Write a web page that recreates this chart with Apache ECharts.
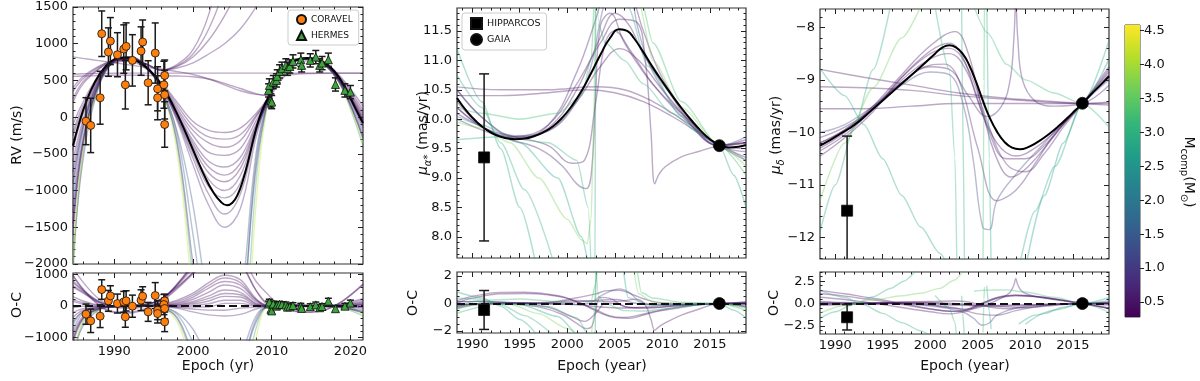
<!DOCTYPE html>
<html>
<head>
<meta charset="utf-8">
<script src="https://cdn.jsdelivr.net/npm/echarts@6.0.0/dist/echarts.min.js"></script>
<style>
html,body{margin:0;padding:0;background:#fff;}
#chart{width:1200px;height:381px;}
</style>
</head>
<body>
<div id="chart"></div>
<script>
// ======================= DATA =======================
// ---- Panel 1: radial velocities ----
const coravelYear = [1986.4,1987.0,1988.2,1988.4,1989.25,1989.5,1990.4,1991.2,1991.5,1991.4,1992.3,1993.4,1993.6,1994.3,1995.2,1995.5,1995.5,1996.4,1996.3,1996.4,1996.4];
const coravelRV   = [-55,-113,264,1136,886,1036,850,927,964,441,773,900,1023,468,873,386,264,568,441,305,-100];
const coravelErr  = [320,370,360,310,330,320,300,330,320,330,350,330,300,300,410,300,300,210,320,330,310];
const coravelOC   = [-263,-474,-326,516,158,316,74,126,158,-347,-10,179,305,-190,326,-137,-242,158,42,-84,-505];

const hermesYear = [2009.6,2009.7,2009.9,2010.0,2010.2,2010.6,2010.7,2011.0,2011.3,2011.8,2012.0,2012.3,2012.7,2013.7,2013.8,2014.9,2015.6,2016.1,2016.4,2017.2,2018.1,2019.3,2020.0];
const hermesRV   = [364,432,227,205,477,500,555,623,659,705,659,690,759,782,705,773,818,705,736,782,445,364,341];
const hermesErr  = [90,90,90,90,90,90,90,90,90,90,90,90,90,90,90,90,90,90,90,90,90,90,90];
const hermesOC   = [60,120,-110,-160,60,-10,30,50,40,30,-40,-30,10,-10,-80,-25,30,-60,-20,150,-90,-10,90];

const rvFitYear = [1984.75,1985.5,1986.5,1987.5,1988.5,1989.5,1990.5,1991.5,1992.5,1993.5,1994.5,1995.5,1996.5,1997.5,1998.5,1999.5,2000.5,2001.5,2002.5,2003.5,2004.3,2005.0,2005.7,2006.4,2007.1,2007.8,2008.6,2009.6,2010.5,2011.5,2012.5,2013.5,2014.5,2015.5,2016.5,2017.5,2018.5,2019.5,2020.5,2021.6];
const rvFit     = [-390,-90,230,470,640,750,805,812,785,725,635,510,350,150,-75,-320,-570,-810,-1010,-1150,-1200,-1165,-1050,-840,-560,-250,40,280,480,640,740,790,805,795,755,675,550,370,150,-80];

const rvModelEpochs = [1984.75,1986,1988,1990,1992,1994,1996,1998,2000,2002,2004,2006,2008,2009.6,2011,2013,2015,2017,2019,2021.6];
const rvModelMass = [0.45,0.4,0.5,0.45,0.5,0.4,0.55,0.45,0.4,0.55,0.35,0.6,0.5,0.7,1.3,2.9,4.2,0.5,1.6,0.5,0.45,0.4,0.6];
const rvModels = [
 [585,590,595,598,600,600,600,600,600,600,600,600,600,600,600,600,600,600,600,600],
 [555,560,565,570,570,568,565,560,550,520,460,390,320,290,560,585,595,598,600,600],
 [820,800,770,740,710,680,655,620,580,520,440,360,310,300,480,700,775,720,520,150],
 [200,450,650,770,790,730,640,720,920,1400,2300,'-','-','-','-','-','-','-','-','-'],
 [250,480,660,770,790,730,640,700,860,1200,1750,2500,'-','-','-','-','-','-','-','-'],
 [350,520,680,770,780,720,640,690,820,1050,1380,1800,2400,'-','-','-','-','-','-','-'],
 [400,550,690,770,780,720,640,670,740,860,1000,1200,1500,1800,'-','-','-','-','-','-'],
 [-100,200,560,740,760,660,470,200,-60,-180,-210,-150,50,280,590,760,790,720,500,100],
 [-250,100,520,760,790,680,450,120,-180,-350,-410,-320,0,260,585,770,800,710,470,30],
 [-600,-50,500,770,800,690,440,60,-320,-600,-680,-550,-100,250,580,775,795,705,450,-20],
 [-900,-150,470,760,810,690,430,30,-400,-760,-880,-700,-150,250,575,770,790,700,440,-50],
 [-1300,-300,450,770,820,700,430,0,-450,-850,-1000,-800,-170,250,580,780,800,700,430,-100],
 [-1600,-400,430,770,820,690,410,-30,-560,-1050,-1320,-1050,-220,250,575,780,790,690,420,-150],
 [-2000,-600,400,760,810,680,400,-60,-650,-1200,-1500,-1250,-280,250,570,785,795,690,400,-250],
 [-1200,-200,450,760,810,680,380,-200,-1200,-2600,-3500,-2600,-500,250,580,790,800,690,400,-300],
 [-2200,-500,420,770,815,690,380,-400,-2200,-4000,-5000,-4000,-900,250,580,790,800,690,380,-400],
 [-2000,-450,430,770,815,690,370,-500,-2500,-4500,-5500,-4500,-1200,250,580,790,800,690,380,-350],
 [-1500,-350,440,770,810,690,360,-350,-2000,-3500,-4000,-3000,-700,250,575,790,800,690,390,-280],
 [-1000,-150,470,770,810,690,390,-250,-1600,-3000,-3800,-3000,-600,250,580,790,800,690,400,-200],
 [-200,150,540,750,775,670,460,160,-120,-270,-300,-240,20,265,585,765,795,715,480,60],
 [-450,30,510,765,795,685,445,90,-250,-480,-520,-430,-50,255,580,772,797,707,460,0],
 [-750,-100,485,765,805,690,435,45,-360,-680,-790,-630,-125,250,578,772,792,702,445,-35],
 [-1450,-350,440,770,820,695,420,-15,-500,-950,-1100,-900,-190,250,578,780,795,695,425,-120]
];
const rvModelOC = [
 [975,550,55,-182,-195,-75,175,580,1060,1515,1780,1580,780,340,30,-162,-195,-110,150,680],
 [945,520,25,-210,-225,-107,140,540,1010,1435,1640,1370,500,30,-10,-177,-200,-112,150,680],
 [1210,760,230,-40,-85,5,230,600,1040,1435,1620,1340,490,40,-90,-62,-20,10,70,230],
 [590,410,110,-10,-5,55,215,700,1380,2315,3480,'-','-','-','-','-','-','-','-','-'],
 [640,440,120,-10,-5,55,215,680,1320,2115,2930,3480,'-','-','-','-','-','-','-','-'],
 [740,480,140,-10,-15,45,215,670,1280,1965,2560,2780,2580,'-','-','-','-','-','-','-'],
 [790,510,150,-10,-15,45,215,650,1200,1775,2180,2180,1680,1540,'-','-','-','-','-','-'],
 [290,160,20,-40,-35,-15,45,180,400,735,970,830,230,20,20,-2,-5,10,50,180],
 [140,60,-20,-20,-5,5,25,100,280,565,770,660,180,0,15,8,5,0,20,110],
 [-210,-90,-40,-10,5,15,15,40,140,315,500,430,80,-10,10,13,0,-5,0,60],
 [-510,-190,-70,-20,15,15,5,10,60,155,300,280,30,-10,5,8,-5,-10,-10,30],
 [-910,-340,-90,-10,25,25,5,-20,10,65,180,180,10,-10,10,18,5,-10,-20,-20],
 [-1210,-440,-110,-10,25,15,-15,-50,-100,-135,-140,-70,-40,-10,5,18,-5,-20,-30,-70],
 [-1610,-640,-140,-20,15,5,-25,-80,-190,-285,-320,-270,-100,-10,0,23,0,-20,-50,-170],
 [-810,-240,-90,-20,15,5,-45,-220,-740,-1685,-2320,-1620,-320,-10,10,28,5,-20,-50,-220],
 [-1810,-540,-120,-10,20,15,-45,-420,-1740,-3085,-3820,-3020,-720,-10,10,28,5,-20,-70,-320],
 [-1610,-490,-110,-10,20,15,-55,-520,-2040,-3585,-4320,-3520,-1020,-10,10,28,5,-20,-70,-270],
 [-1110,-390,-100,-10,15,15,-65,-370,-1540,-2585,-2820,-2020,-520,-10,5,28,5,-20,-60,-200],
 [-610,-190,-70,-10,15,15,-35,-270,-1140,-2085,-2620,-2020,-420,-10,10,28,5,-20,-50,-120],
 [190,110,0,-30,-20,-5,35,140,340,645,880,740,200,5,15,3,0,5,30,140],
 [-60,-10,-30,-15,0,10,20,70,210,435,660,550,130,-5,10,10,2,-3,10,80],
 [-360,-140,-55,-15,10,15,10,25,100,235,390,350,55,-10,8,10,-3,-8,-5,45],
 [-1060,-390,-100,-10,25,20,-5,-35,-40,-35,80,80,-10,-10,8,18,0,-15,-25,-40]
];

// ---- Panel 2: proper motion in RA ----
const astroYear = [1991.25, 2016.0];          // HIPPARCOS, GAIA
const pmraObs   = [9.35, 9.55];
const pmraErr   = [1.42, 0.02];
const pmraOC    = [-0.47, 0.0];

const pmraFitYear = [1988.4,1989.5,1990.5,1991.5,1992.5,1993.5,1994.5,1995.5,1996.5,1997.5,1998.5,1999.5,2000.5,2001.5,2002.5,2003.5,2004.5,2005.5,2006.3,2007,2008,2009,2010,2011,2012,2013,2014,2015,2016,2017,2018,2018.8];
const pmraFit     = [10.36,10.12,9.95,9.82,9.73,9.68,9.66,9.67,9.71,9.78,9.88,10.03,10.23,10.48,10.78,11.10,11.38,11.53,11.50,11.38,11.14,10.88,10.64,10.41,10.19,9.99,9.81,9.66,9.56,9.52,9.53,9.56];

const pmraModelMass = [0.35,0.45,0.55,0.4,0.5,0.6,0.45,0.5,1.1,2.8,3.0,3.7,3.0,2.7,3.2];
const pmraModels = [
 [[1988.4,10.3],[1991.25,9.85],[1994.5,9.7],[1998,9.8],[2001,10.3],[2003.5,10.9],[2005.5,11.2],[2007.5,11.0],[2010,10.5],[2013,9.95],[2016,9.55],[2018.8,9.6]],
 [[1988.4,10.2],[1991.25,9.85],[1994.5,9.68],[1998,9.85],[2001,10.5],[2003.5,11.4],[2005,11.8],[2006.5,11.6],[2008,11.1],[2010.5,10.5],[2013,9.95],[2016,9.55],[2018.8,9.5]],
 [[1988.4,10.1],[1991.25,9.85],[1994.5,9.66],[1998,9.9],[2001,10.8],[2003,11.7],[2004,12.2],[2005.5,12.5],[2007,12.0],[2008,11.5],[2010,10.7],[2013,10.0],[2016,9.55],[2018.8,9.45]],
 [[1988.4,10.4],[1993,10.4],[1998,10.45],[2002,10.5],[2005,10.45],[2008,10.3],[2011,10.05],[2014,9.75],[2016,9.55],[2018.8,9.35]],
 [[1988.4,10.55],[1993,10.5],[1998,10.5],[2003,10.55],[2006,10.5],[2009,10.3],[2012,10.0],[2016,9.55],[2018.8,9.3]],
 [[1988.4,10.0],[1991.25,9.8],[1994,9.65],[1997,9.5],[1999.5,9.2],[2001,8.9],[2002,8.82],[2002.6,9.2],[2003,10.5],[2003.5,11.6],[2004.5,11.8],[2006,11.3],[2008,10.8],[2010,10.4],[2013,9.9],[2016,9.55],[2018.8,9.6]],
 [[1988.4,10.2],[1991.25,9.85],[1994.5,9.7],[1998,9.55],[2000.5,9.25],[2001.8,9.3],[2003,10.3],[2004,11.3],[2005,11.5],[2006.5,11.2],[2009,10.6],[2012,10.1],[2016,9.55],[2018.8,9.65]],
 [[1988.4,10.5],[1991.25,10.0],[1994.5,9.7],[1998,9.9],[2001,10.6],[2003.5,11.3],[2005.5,11.7],[2007.3,11.65],[2008.2,11.0],[2008.8,9.8],[2009.2,8.9],[2009.6,9.05],[2010.3,9.19],[2012,9.36],[2013.8,9.45],[2016,9.55],[2018.8,9.6]],
 [[1988.4,10.5],[1991.25,10.0],[1994.5,9.72],[1998,9.8],[2001,10.3],[2002.5,10.9],[2003.5,11.7],[2004.5,12.3],[2005.5,12.6],[2006.5,12.3],[2007.5,11.5],[2009,10.8],[2012,10.1],[2016,9.55],[2018.8,9.7]],
 [[1988.4,11.2],[1991,10.3],[1993,9.5],[1995,8.5],[1997,7.3]],
 [[1988.4,10.75],[1991,10.2],[1993,9.6],[1995.5,8.8],[1998.5,7.6]],
 [[1988.4,9.95],[1991,9.85],[1994,9.6],[1997,9.0],[2000,8.3],[2001.5,7.95],[2002.1,7.88],[2002.5,8.3],[2002.8,10],[2003,12.5],[2003.3,15],[2006,15],[2007.5,12.0],[2009,11.0],[2012,10.2],[2016,9.55],[2018.8,9.2]],
 [[1988.4,9.65],[1993,9.7],[1998,9.6],[2001,9.3],[2002.2,8.5],[2002.6,7.0],[2002.7,'-'],[2002.9,15],[2003.3,11.6],[2004,11.3],[2006,11.0],[2008,10.6],[2011,10.1],[2014,9.75],[2016,9.55],[2018.8,9.3]],
 [[1988.4,10.05],[1991,9.9],[1995,9.6],[1999,9.0],[2001.5,8.0],[2002.5,7.4],[2002.9,7.0],[2003.05,15],[2005.6,15],[2006.4,11.9],[2008.5,10.9],[2012,10.05],[2014,9.75],[2016,9.55],[2017.5,9.05],[2018.8,8.5]],
 [[1988.4,10.2],[1991,10.1],[1995,10.0],[1999,10.1],[2001.5,10.4],[2002.5,11.0],[2003,12.5],[2003.2,15],[2007,15],[2007.8,12.0],[2009,11.3],[2012,10.3],[2016,9.55],[2018.8,9.05]]
];
const pmraModelOC = [
 [[1988.4,-0.06],[1991.25,0.01],[1994.5,0.04],[1998,-0.02],[2001,-0.08],[2003.5,-0.25],[2005.5,-0.33],[2007.5,-0.29],[2010,-0.17],[2013,-0.06],[2016,0],[2018.8,0.04]],
 [[1988.4,-0.16],[1991.25,0.01],[1994.5,0.02],[1998,0.03],[2001,0.12],[2003.5,0.25],[2005,0.3],[2006.5,0.12],[2008,-0.05],[2010.5,-0.05],[2013,-0.06],[2016,0],[2018.8,-0.06]],
 [[1988.4,-0.26],[1991.25,0.01],[1994.5,0],[1998,0.08],[2001,0.42],[2003,0.7],[2004,0.92],[2005.5,0.97],[2007,0.62],[2008,0.35],[2010,0.04],[2013,0],[2016,0],[2018.8,-0.11]],
 [[1988.4,0.04],[1990,0.39],[1993,0.71],[1995.5,0.73],[1998,0.63],[2000,0.38],[2002,-0.18],[2003.5,-0.7],[2005,-1.03],[2006.5,-1.08],[2008,-0.85],[2009.5,-0.57],[2011,-0.4],[2014,-0.07],[2016,0],[2018.8,-0.21]],
 [[1988.4,0.19],[1990,0.52],[1993,0.81],[1995.5,0.82],[1998,0.68],[2000,0.4],[2003,-0.45],[2004.5,-0.9],[2006,-1.02],[2007.5,-0.85],[2009,-0.6],[2012,-0.21],[2016,0],[2018.8,-0.26]],
 [[1988.4,-0.36],[1991.25,-0.04],[1994,-0.02],[1997,-0.24],[1999.5,-0.8],[2001,-1.45],[2002,-1.83],[2002.6,-1.65],[2003,-0.5],[2003.5,0.45],[2004.5,0.38],[2006,-0.22],[2008,-0.35],[2010,-0.26],[2013,-0.1],[2016,0],[2018.8,0.04]],
 [[1988.4,-0.16],[1991.25,0.01],[1994.5,0.04],[1998,-0.27],[2000.5,-0.97],[2001.8,-1.3],[2003,-0.7],[2004,0],[2005,0.02],[2006.5,-0.28],[2009,-0.3],[2012,-0.11],[2016,0],[2018.8,0.09]],
 [[1988.4,0.14],[1991.25,0.16],[1994.5,0.04],[1998,0.08],[2001,0.22],[2003.5,0.15],[2005.5,0.17],[2007.3,0.32],[2008.2,-0.1],[2008.8,-1.15],[2009.2,-1.95],[2009.6,-1.72],[2010.3,-1.42],[2012,-0.85],[2013.8,-0.42],[2016,0],[2018.8,0.04]],
 [[1988.4,0.14],[1991.25,0.16],[1994.5,0.06],[1998,-0.02],[2001,-0.08],[2002.5,0.07],[2003.5,0.55],[2004.5,0.89],[2005.5,1.07],[2006.5,0.82],[2007.5,0.21],[2009,-0.1],[2012,-0.11],[2016,0],[2018.8,0.14]],
 [[1988.4,0.84],[1991,0.43],[1993,-0.19],[1995,-1.17],[1997,-2.44]],
 [[1988.4,0.39],[1991,0.33],[1993,-0.09],[1995.5,-0.88],[1998.5,-2.3]],
 [[1988.4,-0.41],[1991,-0.02],[1994,-0.07],[1997,-0.74],[2000,-1.82],[2001.5,-2.55],[2002.2,'-'],[2002.5,-2.52],[2002.8,-0.93],[2003,1.5],[2003.2,3],[2005,'-'],[2006.9,3],[2007.5,0.71],[2009,0.1],[2012,-0.01],[2016,0],[2018.8,-0.36]],
 [[1988.4,-0.71],[1993,0.01],[1998,-0.22],[2001,-1.03],[2002.2,-2.22],[2002.6,-3.85],[2002.7,'-'],[2002.9,4],[2003.3,0.5],[2004,0.0],[2006,-0.52],[2008,-0.55],[2011,-0.35],[2014,-0.07],[2016,0],[2018.8,-0.26]],
 [[1988.4,-0.31],[1991,0.03],[1995,-0.07],[1999,-0.95],[2001.5,-2.5],[2002.5,-3.42],[2002.9,-3.97],[2003.05,3.98],[2005.6,3.47],[2006.4,0.43],[2008.5,-0.12],[2012,-0.16],[2014,-0.07],[2016,0],[2017.5,-0.48],[2018.8,-1.06]],
 [[1988.4,-0.16],[1991,0.23],[1995,0.33],[1999,0.15],[2001.5,-0.1],[2002.5,0.18],[2003,1.5],[2003.2,3.94],[2007,3.62],[2007.8,0.8],[2009,0.4],[2012,0.09],[2016,0],[2018.8,-0.51]]
];

// ---- Panel 3: proper motion in Dec ----
const pmdecObs = [-11.49, -9.445];
const pmdecErr = [1.42, 0.02];
const pmdecOC  = [-1.53, 0.0];

const pmdecFitYear = [1988.4,1989.5,1990.5,1991.5,1992.5,1993.5,1994.5,1995.5,1996.5,1997.5,1998.5,1999.5,2000.5,2001.3,2002,2002.7,2003.4,2004.1,2004.8,2005.5,2006.2,2007,2007.8,2008.6,2009.4,2010.3,2011.4,2012.5,2013.5,2014.5,2015.3,2016,2017,2018,2018.8];
const pmdecFit     = [-10.25,-10.14,-10.03,-9.92,-9.79,-9.63,-9.47,-9.31,-9.15,-8.99,-8.83,-8.67,-8.50,-8.38,-8.34,-8.38,-8.50,-8.72,-9.03,-9.38,-9.70,-9.98,-10.18,-10.29,-10.32,-10.28,-10.17,-10.03,-9.88,-9.71,-9.57,-9.45,-9.26,-9.08,-8.93];

const pmdecModelMass = [0.4,0.5,0.6,0.35,1.1,0.45,0.5,0.4,0.55,0.6,2.9,3.6,2.8,3.1,3.0,3.3,2.9,2.9,3.2,2.6];
const pmdecModels = [
 [[1988.4,-10.3],[1991,-10.0],[1994,-9.5],[1997,-8.9],[2000,-8.35],[2002.6,-8.08],[2004,-8.5],[2005.5,-9.6],[2007,-10.5],[2008.5,-10.85],[2010,-10.7],[2012,-10.3],[2014,-9.85],[2016,-9.45],[2018.8,-8.85]],
 [[1988.4,-10.2],[1991,-9.95],[1994,-9.55],[1997,-9.0],[2000,-8.6],[2002,-8.5],[2004,-8.9],[2006,-9.9],[2008,-10.5],[2010,-10.5],[2012,-10.25],[2014,-9.85],[2016,-9.45],[2018.8,-8.9]],
 [[1988.4,-10.1],[1991,-9.9],[1994,-9.55],[1997,-9.05],[2000,-8.72],[2001.5,-8.7],[2003,-9.0],[2005,-10.3],[2007,-11.3],[2009,-11.1],[2011,-10.6],[2013,-10.05],[2016,-9.45],[2018.8,-8.95]],
 [[1988.4,-10.45],[1991,-10.1],[1994,-9.6],[1997,-8.95],[2000,-8.45],[2002,-8.3],[2003.5,-8.6],[2005,-9.4],[2007,-10.2],[2009,-10.45],[2011,-10.3],[2013,-10.0],[2016,-9.45],[2018.8,-8.8]],
 [[1988.4,-10.0],[1991,-9.85],[1994,-9.5],[1997,-9.1],[2000,-8.85],[2002,-8.9],[2003.5,-9.5],[2004.5,-10.5],[2005.5,-11.8],[2006.2,-11.85],[2007,-11.3],[2009,-10.8],[2012,-10.2],[2016,-9.45],[2018.8,-9.0]],
 [[1988.4,-8.8],[1993,-8.95],[1998,-9.1],[2003,-9.25],[2008,-9.35],[2012,-9.4],[2016,-9.45],[2018.8,-9.48]],
 [[1988.4,-9.13],[1993,-9.15],[1998,-9.2],[2003,-9.3],[2008,-9.37],[2012,-9.42],[2016,-9.45],[2018.8,-9.42]],
 [[1988.4,-9.55],[1993,-9.55],[1998,-9.5],[2003,-9.45],[2008,-9.45],[2012,-9.45],[2016,-9.45],[2018.8,-9.45]],
 [[1988.4,-10.2],[1991,-9.95],[1994,-9.5],[1997,-9.05],[2000,-8.75],[2002,-8.8],[2004,-9.3],[2006,-9.7],[2007.5,-9.5],[2008.4,-9.0],[2008.8,-8.2],[2009,-7.5],[2009.2,-8.2],[2009.7,-9.0],[2011,-9.4],[2013,-9.5],[2016,-9.45],[2018.8,-9.1]],
 [[1988.4,-10.35],[1991,-10.05],[1994,-9.55],[1997,-8.95],[2000,-8.5],[2002,-8.4],[2004,-8.8],[2006,-9.8],[2008,-10.6],[2010,-10.75],[2012,-10.4],[2014,-9.9],[2016,-9.45],[2018.8,-8.75]],
 [[1988.4,-11.9],[1990,-11.0],[1992,-9.9],[1994,-8.8],[1995.8,-7.6]],
 [[1988.4,-11.3],[1991,-10.2],[1994,-9.15],[1997,-8.2],[1999,-7.6]],
 [[1988.4,-8.78],[1991,-9.3],[1993,-9.85],[1995,-10.5],[1997,-11.2],[1999,-11.8],[2001,-12.3],[2002,-12.6]],
 [[2000.5,-7.6],[2002,-8.8],[2002.6,-10.5],[2002.8,-12.6]],
 [[2003.3,-7.6],[2003.4,-9.5],[2003.6,-12.6]],
 [[2005.55,-12.6],[2005.65,-9.0],[2005.7,-7.6]],
 [[2005.95,-7.6],[2006.2,-10.5],[2006.4,-12.6]],
 [[2009.3,-12.6],[2011,-11.5],[2013.1,-10.65],[2016,-9.45],[2018.8,-8.25]],
 [[2004.6,-7.6],[2006,-8.1],[2008,-8.7],[2010,-9.0],[2013,-9.25],[2016,-9.45],[2018.8,-9.9]],
 [[2010,-12.6],[2012,-11.2],[2014,-10.2],[2016,-9.45],[2018.8,-8.6]]
];
const pmdecModelOC = [
 [[1988.4,-0.05],[1991,-0.02],[1994,0.06],[1997,0.17],[2000,0.23],[2002.6,0.29],[2004,0.18],[2005.5,-0.22],[2007,-0.5],[2008.5,-0.57],[2010,-0.41],[2012,-0.2],[2014,-0.05],[2016,0],[2018.8,0.08]],
 [[1988.4,0.05],[1991,0.03],[1994,0.01],[1997,0.07],[2000,-0.02],[2002,-0.16],[2004,-0.22],[2006,-0.3],[2008,-0.27],[2010,-0.21],[2012,-0.15],[2014,-0.05],[2016,0],[2018.8,0.03]],
 [[1988.4,0.15],[1991,0.08],[1994,0.01],[1997,0.02],[2000,-0.14],[2001.5,-0.33],[2003,-0.58],[2005,-1.15],[2007,-1.3],[2009,-0.79],[2011,-0.4],[2013,-0.09],[2016,0],[2018.8,-0.02]],
 [[1988.4,-0.2],[1991,-0.12],[1994,-0.04],[1997,0.12],[2000,0.13],[2002,0.04],[2003.5,-0.07],[2005,-0.25],[2007,-0.2],[2009,-0.14],[2011,-0.1],[2013,-0.04],[2016,0],[2018.8,0.13]],
 [[1988.4,0.25],[1991,0.13],[1994,0.06],[1997,-0.03],[2000,-0.27],[2002,-0.56],[2003.5,-0.97],[2004.5,-1.6],[2005.5,-2.42],[2006.2,-2.17],[2007,-1.3],[2009,-0.49],[2012,-0.1],[2016,0],[2018.8,-0.07]],
 [[1988.4,1.45],[1991,1.1],[1993,0.75],[1995,0.4],[1998,-0.2],[2000,-0.6],[2002,-0.85],[2003,-0.83],[2004,-0.6],[2005,-0.15],[2006,0.28],[2007,0.67],[2008,0.88],[2009,0.95],[2010,0.9],[2012,0.7],[2014,0.37],[2016,0],[2018.8,-0.55]],
 [[1988.4,1.12],[1991,0.83],[1993,0.55],[1995,0.25],[1998,-0.28],[2000,-0.6],[2002,-0.85],[2003,-0.87],[2004,-0.63],[2005,-0.18],[2006,0.27],[2007,0.65],[2008,0.86],[2009,0.93],[2010,0.88],[2012,0.68],[2014,0.36],[2016,0],[2018.8,-0.49]],
 [[1988.4,0.7],[1991,0.45],[1993,0.17],[1995,-0.12],[1998,-0.6],[2000,-0.92],[2002,-1.15],[2003,-1.03],[2004,-0.77],[2005,-0.3],[2006,0.15],[2007,0.55],[2008,0.78],[2009,0.86],[2010,0.84],[2012,0.65],[2014,0.35],[2016,0],[2018.8,-0.52]],
 [[1988.4,0.05],[1991,0.03],[1994,0.06],[1997,0.02],[2000,-0.17],[2002,-0.46],[2004,-0.62],[2006,-0.1],[2007.5,0.63],[2008.4,1.27],[2008.8,2.1],[2009,2.81],[2009.2,2.11],[2009.7,1.3],[2011,0.8],[2013,0.46],[2016,0],[2018.8,-0.17]],
 [[1988.4,-0.1],[1991,-0.07],[1994,0.01],[1997,0.12],[2000,0.08],[2002,-0.06],[2004,-0.12],[2006,-0.2],[2008,-0.37],[2010,-0.46],[2012,-0.3],[2014,-0.1],[2016,0],[2018.8,0.18]],
 [[1988.4,-1.65],[1990,-0.92],[1992,-0.05],[1994,0.76],[1995.8,1.68],[1997.2,2.5],[1998.5,3.7]],
 [[1988.4,-1.05],[1991,-0.22],[1994,0.41],[1997,0.87],[1999,1.15],[2001,1.7],[2002.5,2.6],[2003.5,3.7]],
 [[1988.4,1.47],[1991,0.68],[1993,-0.15],[1995,-1.1],[1997,-2.13],[1999,-3.05],[2000,-3.6]],
 [[2000.5,0.9],[2002,-0.46],[2002.6,-2.13],[2002.8,-4.2]],
 [[2003.3,0.88],[2003.4,-0.99],[2003.6,-4.03]],
 [[2005.55,-3.2],[2005.65,0.45],[2005.7,1.85]],
 [[2005.95,2.0],[2006.2,-0.82],[2006.4,-2.84]],
 [[2009.3,-2.29],[2011,-1.3],[2013.1,-0.71],[2016,0],[2018.8,0.68]],
 [[2004.6,1.38],[2006,1.5],[2008,1.53],[2010,1.29],[2013,0.71],[2016,0],[2018.8,-0.97]],
 [[2010,-2.31],[2012,-1.1],[2014,-0.4],[2016,0],[2018.8,0.33]]
];

// ---- axis ranges and tick labels ----
const rvXRange = [1984.75, 2021.6];
const astXRange = [1988.4, 2018.8];
const rvYRange = [-2000, 1500];
const rvOCRange = [-1080, 1040];
const pmraYRange = [7.64, 11.89];
const pmraOCRange = [-2.15, 2.3];
const pmdecYRange = [-12.41, -7.65];
const pmdecOCRange = [-3.4, 3.53];
const cbRange = [0.28, 4.58];

const rvXTicks = [1990, 2000, 2010, 2020];
const astXTicks = [1990, 1995, 2000, 2005, 2010, 2015];
const rvYTicks = [-2000, -1500, -1000, -500, 0, 500, 1000, 1500];
const rvOCTicks = [-1000, 0, 1000];
const pmraYTicks = [8.0, 8.5, 9.0, 9.5, 10.0, 10.5, 11.0, 11.5];
const pmraOCTicks = [-2, 0, 2];
const pmdecYTicks = [-12, -11, -10, -9, -8];
const pmdecOCTicks = [-2.5, 0, 2.5];
const cbTicks = [0.5, 1.0, 1.5, 2.0, 2.5, 3.0, 3.5, 4.0, 4.5];

// ======================= BUILD =======================
const FONT = 'DejaVu Sans';
const VIR = [[68,1,84],[72,40,120],[62,73,137],[49,104,142],[38,130,142],[31,158,137],[53,183,121],[110,206,88],[181,222,43],[253,231,37]];
function viridis(m){
  let t = (m - cbRange[0]) / (cbRange[1] - cbRange[0]);
  t = Math.max(0, Math.min(1, t));
  const p = t * (VIR.length - 1);
  const i = Math.min(Math.floor(p), VIR.length - 2);
  const f = p - i;
  return VIR[i].map((a, k) => Math.round(a + (VIR[i + 1][k] - a) * f));
}
function modelColor(m){ const c = viridis(m); return 'rgba(' + c[0] + ',' + c[1] + ',' + c[2] + ',0.36)'; }
function minorTicks(r, step, major){
  const out = [];
  const start = Math.ceil(r[0] / step - 1e-9);
  const end = Math.floor(r[1] / step + 1e-9);
  for (let k = start; k <= end; k++){
    const v = +(k * step).toFixed(6);
    if (major.some(mj => Math.abs(mj - v) < 1e-6)) continue;
    out.push(v);
  }
  return out;
}
function fmt(dec){ return v => (+v).toFixed(dec).replace('-', '\u2212'); }
const labelStyle = {fontFamily: FONT, fontSize: 13, color: '#111'};

const grids = [], xAxes = [], yAxes = [], series = [];
function addPanel(box, xr, yr, xMaj, xMinStep, yMaj, yMinStep, showX, xDec, yDec){
  const gi = grids.length;
  grids.push({left: box[0], top: box[1], width: box[2], height: box[3], show: true,
    borderColor: '#333', borderWidth: 1.2, backgroundColor: 'rgba(0,0,0,0)'});
  const mk = (pos, ticks, len, labels, dec, r) => ({
    type: 'value', gridIndex: gi, min: r[0], max: r[1], position: pos,
    splitLine: {show: false}, axisLine: {show: false, onZero: false},
    axisTick: {show: true, inside: true, length: len, customValues: ticks, lineStyle: {color: '#222', width: 1}},
    axisLabel: labels ? Object.assign({show: true, customValues: ticks, formatter: fmt(dec), margin: 5}, labelStyle) : {show: false}
  });
  const xMin = minorTicks(xr, xMinStep, xMaj), yMin = minorTicks(yr, yMinStep, yMaj);
  const xi = xAxes.length, yi = yAxes.length;
  xAxes.push(mk('bottom', xMaj, 5, showX, xDec, xr), mk('bottom', xMin, 2.5, false, 0, xr),
             mk('top', xMaj, 5, false, 0, xr), mk('top', xMin, 2.5, false, 0, xr));
  yAxes.push(mk('left', yMaj, 5, true, yDec, yr), mk('left', yMin, 2.5, false, 0, yr),
             mk('right', yMaj, 5, false, 0, yr), mk('right', yMin, 2.5, false, 0, yr));
  return {xi, yi};
}

function lineS(data, ax, color, width, z, smooth, mono){
  const s = {type: 'line', xAxisIndex: ax.xi, yAxisIndex: ax.yi, data: data, symbol: 'none', showSymbol: false,
    smooth: smooth, connectNulls: false, clip: true, silent: true, z: z,
    lineStyle: {color: color, width: width}, emphasis: {disabled: true}};
  if (mono) s.smoothMonotone = 'x';
  return s;
}
function scatterS(name, xs, ys, ax, symbol, size, color, z, zeroLine){
  const s = {type: 'scatter', name: name, xAxisIndex: ax.xi, yAxisIndex: ax.yi,
    data: xs.map((x, i) => [x, ys[i]]), symbol: symbol, symbolSize: size,
    itemStyle: {color: color, borderColor: '#111', borderWidth: 0.8, opacity: 1}, z: z, clip: true, silent: true};
  if (zeroLine) s.markLine = {silent: true, symbol: ['none', 'none'], label: {show: false}, animation: false,
    lineStyle: {color: '#111', type: [8, 4], width: 1.8}, data: [{yAxis: 0}]};
  return s;
}
function errS(xs, ys, es, ax, cap, z){
  return {type: 'custom', xAxisIndex: ax.xi, yAxisIndex: ax.yi, clip: true, silent: true, z: z,
    data: xs.map((x, i) => [x, ys[i] - es[i], ys[i] + es[i]]),
    encode: {x: 0, y: [1, 2]},
    renderItem: (p, api) => {
      const a = api.coord([api.value(0), api.value(1)]);
      const b = api.coord([api.value(0), api.value(2)]);
      const st = {stroke: '#1a1a1a', lineWidth: 1.5};
      return {type: 'group', children: [
        {type: 'line', shape: {x1: a[0], y1: a[1], x2: b[0], y2: b[1]}, style: st},
        {type: 'line', shape: {x1: a[0] - cap, y1: a[1], x2: a[0] + cap, y2: a[1]}, style: st},
        {type: 'line', shape: {x1: b[0] - cap, y1: b[1], x2: b[0] + cap, y2: b[1]}, style: st}
      ]};
    }};
}

// panels
const P1 = addPanel([73, 7, 290, 257], rvXRange, rvYRange, rvXTicks, 2, rvYTicks, 100, false, 0, 0);
const P1c = addPanel([73, 273, 290, 67], rvXRange, rvOCRange, rvXTicks, 2, rvOCTicks, 200, true, 0, 0);
const P2 = addPanel([457, 8, 289, 250], astXRange, pmraYRange, astXTicks, 1, pmraYTicks, 0.1, false, 0, 1);
const P2c = addPanel([457, 272, 289, 61], astXRange, pmraOCRange, astXTicks, 1, pmraOCTicks, 0.5, true, 0, 0);
const P3 = addPanel([820, 9, 289, 250], astXRange, pmdecYRange, astXTicks, 1, pmdecYTicks, 0.2, false, 0, 0);
const P3c = addPanel([820, 272, 289, 62], astXRange, pmdecOCRange, astXTicks, 1, pmdecOCTicks, 0.5, true, 0, 1);

// colorbar grid
const cbGi = grids.length;
grids.push({left: 1125, top: 25, width: 15, height: 292, show: true, borderColor: '#444', borderWidth: 1});
const CB = {xi: xAxes.length, yi: yAxes.length};
xAxes.push({type: 'value', gridIndex: cbGi, min: 0, max: 1, show: false});
yAxes.push({type: 'value', gridIndex: cbGi, min: cbRange[0], max: cbRange[1], position: 'right',
  splitLine: {show: false}, axisLine: {show: false, onZero: false},
  axisTick: {show: true, inside: false, length: 4, customValues: cbTicks, lineStyle: {color: '#222'}},
  axisLabel: Object.assign({show: true, customValues: cbTicks, formatter: fmt(1), margin: 4}, labelStyle)});
series.push({type: 'custom', xAxisIndex: CB.xi, yAxisIndex: CB.yi, silent: true, z: 1,
  data: [[0, cbRange[0], cbRange[1]]],
  renderItem: (p, api) => {
    const a = api.coord([0, api.value(2)]), b = api.coord([1, api.value(1)]);
    const stops = VIR.slice().reverse().map((c, i) => ({offset: i / (VIR.length - 1), color: 'rgb(' + c.join(',') + ')'}));
    return {type: 'rect', shape: {x: a[0], y: a[1], width: b[0] - a[0], height: b[1] - a[1]},
      style: {fill: new echarts.graphic.LinearGradient(0, 0, 0, 1, stops)}};
  }});

// Panel 1 models
rvModels.forEach((vals, k) => {
  series.push(lineS(rvModelEpochs.map((x, i) => [x, vals[i]]), P1, modelColor(rvModelMass[k]), 1.4, 2, 0.4));
  series.push(lineS(rvModelEpochs.map((x, i) => [x, rvModelOC[k][i]]), P1c, modelColor(rvModelMass[k]), 1.4, 2, 0.4));
});
series.push(lineS(rvFitYear.map((x, i) => [x, rvFit[i]]), P1, '#000', 2, 3, 0.5));
series.push(errS(coravelYear, coravelRV, coravelErr, P1, 3.5, 5));
series.push(errS(hermesYear, hermesRV, hermesErr, P1, 3.5, 5));
series.push(scatterS('CORAVEL', coravelYear, coravelRV, P1, 'circle', 8, '#ff7f0e', 6));
series.push(scatterS('HERMES', hermesYear, hermesRV, P1, 'triangle', 8, '#3da33d', 6));
series.push(errS(coravelYear, coravelOC, coravelErr, P1c, 3.5, 5));
series.push(errS(hermesYear, hermesOC, hermesErr, P1c, 3.5, 5));
series.push(scatterS('CORAVEL O-C', coravelYear, coravelOC, P1c, 'circle', 8, '#ff7f0e', 6, true));
series.push(scatterS('HERMES O-C', hermesYear, hermesOC, P1c, 'triangle', 8, '#3da33d', 6));

// Panel 2 models
pmraModels.forEach((d, k) => {
  const spiky = pmraModelMass[k] > 2;
  series.push(lineS(d, P2, modelColor(pmraModelMass[k]), 1.4, 2, spiky ? 0.25 : 0.4, spiky));
  series.push(lineS(pmraModelOC[k], P2c, modelColor(pmraModelMass[k]), 1.4, 2, spiky ? 0.25 : 0.4, spiky));
});
series.push(lineS(pmraFitYear.map((x, i) => [x, pmraFit[i]]), P2, '#000', 2, 3, 0.5));
series.push(errS(astroYear, pmraObs, pmraErr, P2, 5, 5));
series.push(scatterS('HIPPARCOS', [astroYear[0]], [pmraObs[0]], P2, 'rect', 11, '#000', 6));
series.push(scatterS('GAIA', [astroYear[1]], [pmraObs[1]], P2, 'circle', 12, '#000', 6));
series.push(errS(astroYear, pmraOC, pmraErr, P2c, 5, 5));
series.push(scatterS('HIPPARCOS O-C', [astroYear[0]], [pmraOC[0]], P2c, 'rect', 11, '#000', 6, true));
series.push(scatterS('GAIA O-C', [astroYear[1]], [pmraOC[1]], P2c, 'circle', 12, '#000', 6));

// Panel 3 models
pmdecModels.forEach((d, k) => {
  const spiky = pmdecModelMass[k] > 2;
  series.push(lineS(d, P3, modelColor(pmdecModelMass[k]), 1.4, 2, spiky ? 0.25 : 0.4, spiky));
  series.push(lineS(pmdecModelOC[k], P3c, modelColor(pmdecModelMass[k]), 1.4, 2, spiky ? 0.25 : 0.4, spiky));
});
series.push(lineS(pmdecFitYear.map((x, i) => [x, pmdecFit[i]]), P3, '#000', 2, 3, 0.5));
series.push(errS(astroYear, pmdecObs, pmdecErr, P3, 5, 5));
series.push(scatterS('HIPPARCOS δ', [astroYear[0]], [pmdecObs[0]], P3, 'rect', 11, '#000', 6));
series.push(scatterS('GAIA δ', [astroYear[1]], [pmdecObs[1]], P3, 'circle', 12, '#000', 6));
series.push(errS(astroYear, pmdecOC, pmdecErr, P3c, 5, 5));
series.push(scatterS('HIPPARCOS δ O-C', [astroYear[0]], [pmdecOC[0]], P3c, 'rect', 11, '#000', 6, true));
series.push(scatterS('GAIA δ O-C', [astroYear[1]], [pmdecOC[1]], P3c, 'circle', 12, '#000', 6));

// titles
const T = (x, y, text, rot, extra) => ({type: 'text', x: x, y: y, rotation: rot || 0, silent: true, z: 10,
  style: Object.assign({text: text, fontFamily: FONT, fontSize: 14, fill: '#111', align: 'center', verticalAlign: 'middle'}, extra || {})});
const muRich = {
  m: {fontFamily: FONT, fontSize: 14, fontStyle: 'italic', lineHeight: 20, verticalAlign: 'middle', fill: '#111'},
  s: {fontFamily: FONT, fontSize: 10, fontStyle: 'italic', lineHeight: 11, verticalAlign: 'bottom', fill: '#111'},
  n: {fontFamily: FONT, fontSize: 14, lineHeight: 20, verticalAlign: 'middle', fill: '#111'},
  u: {fontFamily: FONT, fontSize: 10, lineHeight: 11, verticalAlign: 'bottom', fill: '#111'}
};
const graphic = [
  T(17, 135, 'RV (m/s)', Math.PI / 2),
  T(17, 305, 'O-C', Math.PI / 2),
  T(218, 366, 'Epoch (yr)', 0),
  T(423, 133, '{m|μ}{s|α*}{n| (mas/yr)}', Math.PI / 2, {rich: muRich}),
  T(413, 303, 'O-C', Math.PI / 2),
  T(602, 366, 'Epoch (year)', 0),
  T(776, 135, '{m|μ}{s|δ}{n| (mas/yr)}', Math.PI / 2, {rich: muRich}),
  T(774, 303, 'O-C', Math.PI / 2),
  T(965, 366, 'Epoch (year)', 0),
  T(1189, 172, '{n|M}{u|comp}{n|(M}{u|⊙}{n|)}', -Math.PI / 2, {rich: muRich})
];

const legendBase = {orient: 'vertical', selectedMode: false, borderColor: '#ccc', borderWidth: 1, borderRadius: 3,
  backgroundColor: 'rgba(255,255,255,0.85)', z: 8};
const option = {
  animation: false,
  backgroundColor: '#fff',
  grid: grids, xAxis: xAxes, yAxis: yAxes, series: series, graphic: graphic,
  legend: [
    Object.assign({}, legendBase, {data: [{name: 'CORAVEL', icon: 'circle'}, {name: 'HERMES', icon: 'triangle'}],
      left: 288, top: 10, itemWidth: 9, itemHeight: 9, itemGap: 5, padding: [4, 6, 4, 8],
      textStyle: {fontFamily: FONT, fontSize: 9, color: '#111'}}),
    Object.assign({}, legendBase, {data: [{name: 'HIPPARCOS', icon: 'rect'}, {name: 'GAIA', icon: 'circle'}],
      left: 462, top: 13, itemWidth: 11, itemHeight: 11, itemGap: 3, padding: [4, 6, 4, 8],
      textStyle: {fontFamily: FONT, fontSize: 9.5, color: '#111'}})
  ]
};
const chart = echarts.init(document.getElementById('chart'), null, {renderer: 'canvas'});
chart.setOption(option);
</script>
</body>
</html>
